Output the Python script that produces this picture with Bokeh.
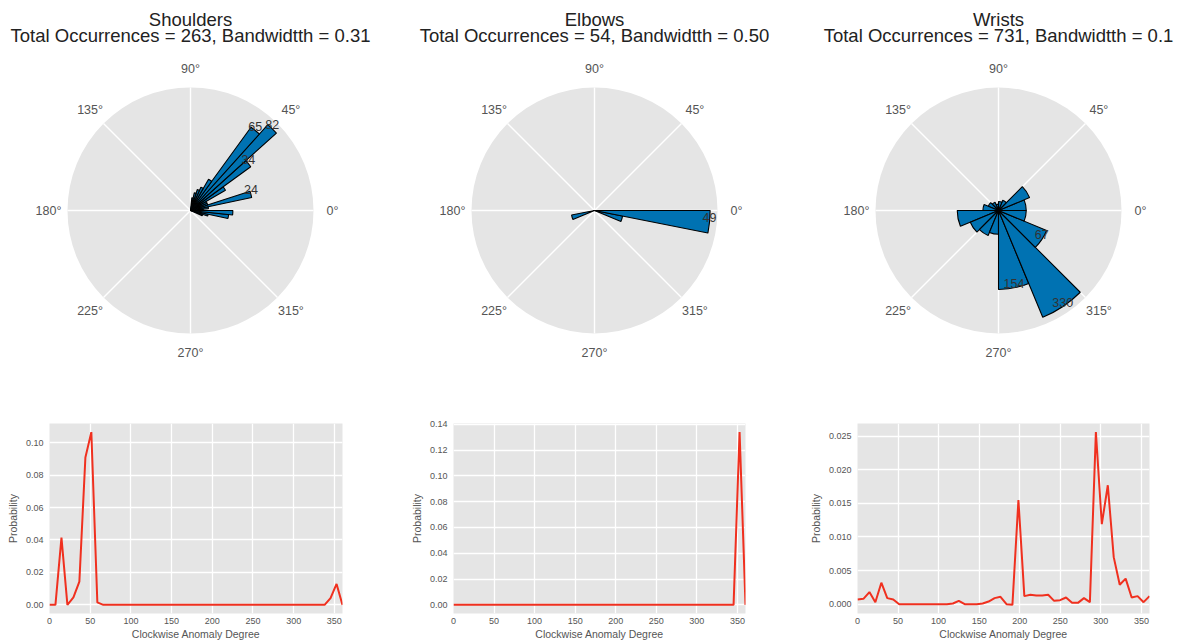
import numpy as np
from bokeh.plotting import figure
from bokeh.layouts import column, row
from bokeh.models import Range1d, FixedTicker, NumeralTickFormatter
from bokeh.core.properties import value
from bokeh.embed import file_html
from bokeh.resources import INLINE

# ---------------- data ----------------
JOINTS = ["Shoulders", "Elbows", "Wrists"]
TOTALS = [263, 54, 731]
BANDWIDTHS = ["0.31", "0.50", "0.1"]

# histogram counts per equal angular bin, counter-clockwise from 0 deg
SHOULDER_COUNTS = [1, 2, 24, 2, 2, 10, 34, 82, 65, 8,
                   4, 3, 2, 1, 0, 0, 0, 0, 0, 0,
                   0, 0, 0, 0, 0, 0, 0, 0, 0, 0,
                   0, 0, 0, 0, 0, 0, 0, 0, 0, 0,
                   0, 0, 0, 0, 0, 0, 0, 0, 0, 0,
                   0, 0, 0, 0, 0, 0, 1, 2, 9, 11]
ELBOW_COUNTS = [0, 0, 0, 0, 0, 0, 0, 0, 0, 0,
                0, 0, 0, 0, 0, 0, 0, 2, 0, 0,
                0, 0, 0, 0, 0, 0, 0, 0, 0, 0,
                3, 49]
WRIST_COUNTS = [19, 28, 3, 2, 1, 2, 3, 6,
                42, 23, 18, 14, 154, 330, 67, 19]

ANGLE_TICKS = [0, 45, 90, 135, 180, 225, 270, 315]
ANGLE_LABELS = ["0°", "45°", "90°", "135°", "180°", "225°", "270°", "315°"]

KDE_X = [0.0, 7.3, 14.7, 22.0, 29.4, 36.7, 44.1, 51.4, 58.8, 66.1,
         73.5, 80.8, 88.2, 95.5, 102.9, 110.2, 117.6, 124.9, 132.2, 139.6,
         146.9, 154.3, 161.6, 169.0, 176.3, 183.7, 191.0, 198.4, 205.7, 213.1,
         220.4, 227.8, 235.1, 242.4, 249.8, 257.1, 264.5, 271.8, 279.2, 286.5,
         293.9, 301.2, 308.6, 315.9, 323.3, 330.6, 338.0, 345.3, 352.7, 360.0]
SHOULDER_KDE = [0.0, 0.0, 0.0415, 0.0, 0.0046, 0.0143, 0.0909, 0.1065, 0.0015, 0.0,
                0.0, 0.0, 0.0, 0.0, 0.0, 0.0, 0.0, 0.0, 0.0, 0.0,
                0.0, 0.0, 0.0, 0.0, 0.0, 0.0, 0.0, 0.0, 0.0, 0.0,
                0.0, 0.0, 0.0, 0.0, 0.0, 0.0, 0.0, 0.0, 0.0, 0.0,
                0.0, 0.0, 0.0, 0.0, 0.0, 0.0, 0.0, 0.0042, 0.0129, 0.0]
ELBOW_KDE = [0.0] * 48 + [0.1339, 0.0]
WRIST_KDE = [0.0007, 0.0008, 0.0018, 0.0003, 0.0032, 0.0009, 0.0007, 0.0, 0.0, 0.0,
             0.0, 0.0, 0.0, 0.0, 0.0, 0.0, 0.0001, 0.0005, 0.0, 0.0,
             0.0, 0.0001, 0.0004, 0.0009, 0.0011, 0.0, -0.0001, 0.0155, 0.0012, 0.0014,
             0.0013, 0.0013, 0.0014, 0.0005, 0.0006, 0.0010, 0.0002, 0.0002, 0.0009, 0.0003,
             0.0256, 0.0119, 0.0177, 0.0070, 0.0029, 0.0038, 0.0010, 0.0012, 0.0003, 0.0012]

X_TICKS = [0, 50, 100, 150, 200, 250, 300, 350]
SHOULDER_YTICKS = [0.0, 0.02, 0.04, 0.06, 0.08, 0.10]
ELBOW_YTICKS = [0.0, 0.02, 0.04, 0.06, 0.08, 0.10, 0.12, 0.14]
WRIST_YTICKS = [0.0, 0.005, 0.010, 0.015, 0.020, 0.025]

# ---------------- style ----------------
FONT_NAME = "Liberation Sans"
FONT = value(FONT_NAME)
BG = "#E5E5E5"
BAR = "#0072B2"
RED = "#F0301F"
TXT = "#555555"
R = 123.0              # polar radius in px
BAR_MAX_FRAC = 0.94    # longest bar relative to R
LABEL_FRAC = 0.08      # label bars holding at least this share

# ---------------- top row: three rose diagrams ----------------
top = figure(width=1190, height=400, x_range=Range1d(0, 1190), y_range=Range1d(-400, 0),
             output_backend="svg", toolbar_location=None, min_border=0)
top.axis.visible = False
top.grid.visible = False
top.outline_line_color = None
top.background_fill_color = "white"

CENTERS = [(190, -210), (594, -210), (998, -210)]
ALL_COUNTS = [SHOULDER_COUNTS, ELBOW_COUNTS, WRIST_COUNTS]

for (cx, cy), name, tot, bw, counts in zip(CENTERS, JOINTS, TOTALS, BANDWIDTHS, ALL_COUNTS):
    # titles
    top.text(x=[cx], y=[-18.5], text=[name], text_font=FONT, text_font_size="18.5px",
             text_align="center", text_baseline="alphabetic", text_color="#222222")
    top.text(x=[cx], y=[-34.5], text=[f"Total Occurrences = {tot}, Bandwidtth = {bw}"],
             text_font=FONT, text_font_size="18.5px", text_align="center",
             text_baseline="alphabetic", text_color="#222222")
    # background disc
    top.circle(x=[cx], y=[cy], radius=R, fill_color=BG, line_color=None)
    ang = np.deg2rad(ANGLE_TICKS)
    top.segment(x0=[cx] * len(ang), y0=[cy] * len(ang),
                x1=list(cx + R * np.cos(ang)), y1=list(cy + R * np.sin(ang)),
                line_color="white", line_width=1.4)
    top.text(x=list(cx + 142 * np.cos(ang)), y=list(cy + 142 * np.sin(ang)), text=ANGLE_LABELS,
             text_font=FONT, text_font_size="12.5px", text_align="center",
             text_baseline="middle", text_color=TXT)
    # bars (radius proportional to sqrt of count)
    c = np.array(counts, dtype=float)
    n = len(c)
    step = 2 * np.pi / n
    starts = np.arange(n) * step
    ends = starts + step
    scale = BAR_MAX_FRAC * R / np.sqrt(c.max())
    radii = np.sqrt(c) * scale
    m = c > 0
    top.wedge(x=cx, y=cy, radius=list(radii[m]), start_angle=list(starts[m]),
              end_angle=list(ends[m]), fill_color=BAR, line_color="black", line_width=1.1)
    lab = c >= LABEL_FRAC * tot
    mids = (starts + ends) / 2
    top.text(x=list(cx + radii[lab] * np.cos(mids[lab])), y=list(cy + radii[lab] * np.sin(mids[lab])),
             text=[str(int(v)) for v in c[lab]], text_font=FONT, text_font_size="12.5px",
             text_align="center", text_baseline="bottom", text_color="#333333")

# ---------------- bottom row: KDE curves ----------------
def kde_fig(yvals, yticks, fmt, width, left, right):
    lo = min(yvals)
    hi = max(yvals)
    pad = 0.05 * (hi - lo)
    p = figure(width=width, height=242, x_range=Range1d(0, 360),
               y_range=Range1d(lo - pad, hi + pad), output_backend="svg",
               toolbar_location=None, min_border_left=left, min_border_right=right,
               min_border_top=23, min_border_bottom=26)
    p.background_fill_color = BG
    p.border_fill_color = "white"
    p.outline_line_color = None
    p.line(KDE_X, yvals, line_color=RED, line_width=2)
    p.xaxis.ticker = FixedTicker(ticks=X_TICKS)
    p.yaxis.ticker = FixedTicker(ticks=yticks)
    p.yaxis.formatter = NumeralTickFormatter(format=fmt)
    p.grid.grid_line_color = "white"
    p.grid.grid_line_width = 1.3
    p.axis.axis_line_color = None
    p.axis.major_tick_line_color = None
    p.axis.minor_tick_line_color = None
    p.axis.major_tick_out = 0
    p.axis.major_tick_in = 0
    p.axis.minor_tick_out = 0
    p.axis.minor_tick_in = 0
    p.axis.major_label_text_font = FONT_NAME
    p.axis.major_label_text_font_size = "9px"
    p.axis.major_label_text_color = TXT
    p.axis.axis_label_text_font = FONT_NAME
    p.axis.axis_label_text_font_size = "10.5px"
    p.axis.axis_label_text_font_style = "normal"
    p.axis.axis_label_text_color = TXT
    p.xaxis.axis_label = "Clockwise Anomaly Degree"
    p.yaxis.axis_label = "Probability"
    p.xaxis.major_label_standoff = 4
    p.yaxis.major_label_standoff = 6
    p.xaxis.axis_label_standoff = 1
    p.yaxis.axis_label_standoff = 4
    return p

k1 = kde_fig(SHOULDER_KDE, SHOULDER_YTICKS, "0.00", 400, 49, 58)
k2 = kde_fig(ELBOW_KDE, ELBOW_YTICKS, "0.00", 405, 53, 60)
k3 = kde_fig(WRIST_KDE, WRIST_YTICKS, "0.000", 385, 52, 41)

layout = column(top, row(k1, k2, k3, spacing=0), spacing=0)
open("out.html", "w").write(file_html(layout, INLINE))
